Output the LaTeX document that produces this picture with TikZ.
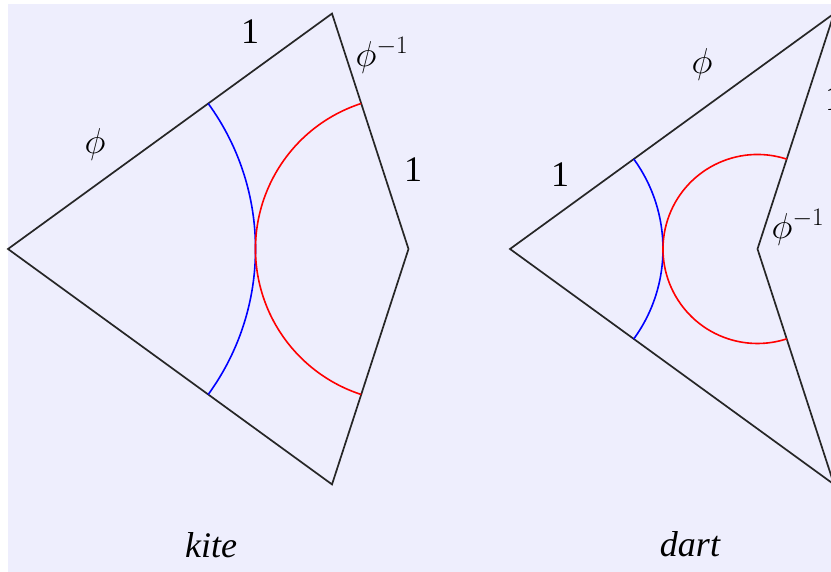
\documentclass[tikz,border=0pt]{standalone}
\usepackage{fix-cm}
\usepackage{fontspec}
\setmainfont{Liberation Serif}
\usetikzlibrary{calc}
\begin{document}
\begin{tikzpicture}[x=1pt,y=1pt,
  edge/.style={draw=black!85, line width=1.7pt, line join=miter},
  bluearc/.style={draw=blue, line width=1.6pt},
  redarc/.style={draw=red, line width=1.6pt},
  lbl/.style={inner sep=0pt, font=\fontsize{36}{40}\selectfont}]
\definecolor{bgl}{RGB}{238,238,253}
\useasboundingbox (0,0) rectangle (831,572);
\fill[white] (0,0) rectangle (831,572);
\fill[bgl] (8,0) rectangle (831,568);
% kite
\coordinate (KL) at (8,323);
\coordinate (KT) at ($(KL)+(36:400.5)$);
\coordinate (KR) at (408.5,323);
\coordinate (KB) at ($(KL)+(-36:400.5)$);
\draw[edge] (KL) -- (KT) -- (KR) -- (KB) -- cycle;
\draw[bluearc] ($(KL)+(-36:247.5)$) arc[start angle=-36,end angle=36,radius=247.5];
\draw[redarc] ($(KR)+(108:153)$) arc[start angle=108,end angle=252,radius=153];
% dart
\coordinate (DL) at (510,323);
\coordinate (DT) at ($(DL)+(36:400.5)$);
\coordinate (DI) at (757.5,323);
\coordinate (DB) at ($(DL)+(-36:400.5)$);
\draw[edge] (DL) -- (DT) -- (DI) -- (DB) -- cycle;
\draw[bluearc] ($(DL)+(-36:153)$) arc[start angle=-36,end angle=36,radius=153];
\draw[redarc] ($(DI)+(72:94.5)$) arc[start angle=72,end angle=288,radius=94.5];
% labels
\node[lbl] (k1) at (250,540) {1};
\node[lbl] (kphiinv) at (382,517) {$\phi^{-1}$};
\node[lbl] (kphi) at (95,427) {$\phi$};
\node[lbl] (k1r) at (413,402) {1};
\node[lbl] (dphi) at (702,507) {$\phi$};
\node[lbl] (d1) at (560,397) {1};
\node[lbl] (dphiinv) at (798,345) {$\phi^{-1}$};
\node[lbl] (d1cut) at (834,473) {1};
\node[lbl, anchor=base] (kite) at (211,14) {\itshape kite};
\node[lbl, anchor=base] (dart) at (690,15) {\itshape dart};
\end{tikzpicture}
\end{document}
